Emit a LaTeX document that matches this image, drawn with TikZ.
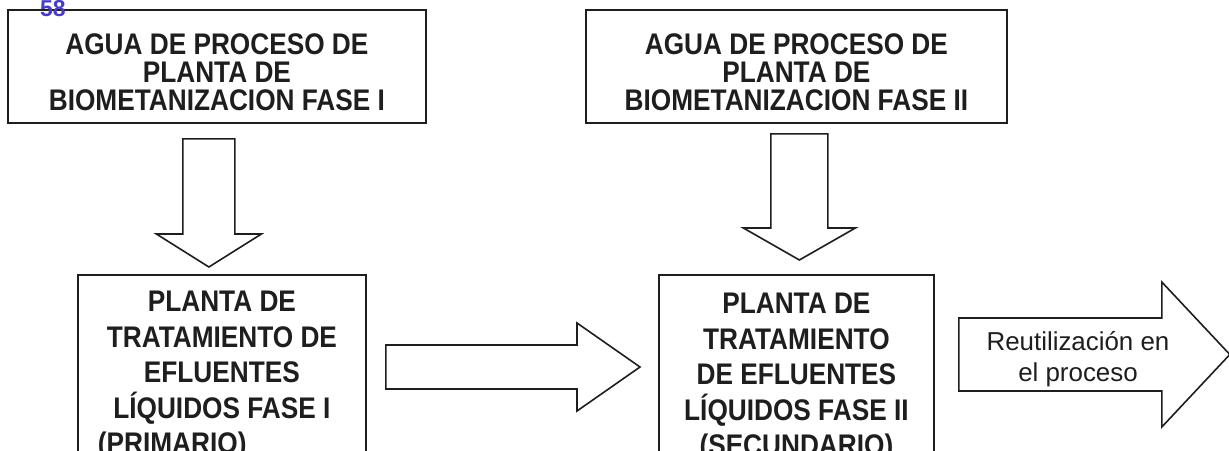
\documentclass[tikz,border=0pt]{standalone}
\usepackage{fontspec}
\setmainfont{Liberation Sans}
\newfontfamily\cajafont[FakeStretch=0.88]{Liberation Sans}
\usetikzlibrary{positioning,calc}

\definecolor{trazo}{RGB}{30,30,30}
\definecolor{tinta}{RGB}{70,60,200}

\tikzset{
  caja/.style={draw=trazo,line width=1.8pt,rectangle,anchor=north west,inner sep=0pt},
  titulo/.style={align=center,inner sep=0pt,text=trazo,font=\cajafont\bfseries\fontsize{29.8}{28}\selectfont},
  planta/.style={align=center,inner sep=0pt,text=trazo,font=\cajafont\bfseries\fontsize{29.8}{35.5}\selectfont},
  bloque/.style={draw=trazo,fill=white,line width=1.6pt,line join=miter}
}

% flecha de bloque hacia abajo: inicio, punta, medio cuerpo, media cabeza, largo cabeza
\newcommand{\flechabajo}[5]{%
  \draw[bloque] let \p1=(#1), \p2=(#2) in
    (\x1-#3,\y1) -- (\x1-#3,\y2+#5) -- (\x1-#4,\y2+#5) -- (\x2,\y2)
    -- (\x1+#4,\y2+#5) -- (\x1+#3,\y2+#5) -- (\x1+#3,\y1) -- cycle;}
% flecha de bloque hacia la derecha
\newcommand{\flechader}[5]{%
  \draw[bloque] let \p1=(#1), \p2=(#2) in
    (\x1,\y1+#3) -- (\x2-#5,\y1+#3) -- (\x2-#5,\y1+#4) -- (\x2,\y2)
    -- (\x2-#5,\y1-#4) -- (\x2-#5,\y1-#3) -- (\x1,\y1-#3) -- cycle;}

\begin{document}
\begin{tikzpicture}[x=1pt,y=-1pt]
      \useasboundingbox (0,0) rectangle (1229,450);
      \clip (0,0) rectangle (1229,450);

      \node[caja,minimum width=418pt,minimum height=113pt] (agua1) at (7,9) {};
      \node[caja,minimum width=421pt,minimum height=113pt] (agua2) at (585,9) {};
      \node[caja,minimum width=288pt,minimum height=200pt] (planta1) at (77,274) {};
      \node[caja,minimum width=275pt,minimum height=200pt] (planta2) at (658,274) {};

      \node[titulo,below=24pt of agua1.north] (agua1txt) {AGUA DE PROCESO DE\\PLANTA DE\\BIOMETANIZACION FASE I};
      \node[titulo,below=24pt of agua2.north] (agua2txt) {AGUA DE PROCESO DE\\PLANTA DE\\BIOMETANIZACION FASE II};
      \node[planta,below=17pt of planta1.north] (planta1txt) {PLANTA DE\\TRATAMIENTO DE\\EFLUENTES\\LÍQUIDOS FASE I\\\makebox[248pt][l]{(PRIMARIO)}};
      \node[planta,below=19pt of planta2.north] (planta2txt) {PLANTA DE\\TRATAMIENTO\\DE EFLUENTES\\LÍQUIDOS FASE II\\(SECUNDARIO)};

      \coordinate (f1a) at ($(agua1.south)+(-8,15)$);
      \coordinate (f1b) at ($(f1a |- planta1.north)+(0,-7)$);
      \coordinate (f2a) at ($(agua2.south)+(3,10)$);
      \coordinate (f2b) at ($(f2a |- planta2.north)+(0,-14)$);
      \coordinate (f3a) at ($(planta1.north east)+(19,93)$);
      \coordinate (f3b) at ($(f3a -| planta2.north west)+(-18,0)$);
      \coordinate (f4a) at ($(planta2.north east)+(24,80.5)$);
      \coordinate (f4b) at ($(f4a)+(271,0)$);

      \flechabajo{f1a}{f1b}{26pt}{52.5pt}{33pt}
      \flechabajo{f2a}{f2b}{28.5pt}{56pt}{32pt}
      \flechader{f3a}{f3b}{22pt}{44pt}{63pt}
      \flechader{f4a}{f4b}{36.5pt}{72.5pt}{68pt}

      \node[align=center,inner sep=0pt,text=trazo,font=\fontsize{25.9}{31}\selectfont] (reutil) at (1078,359) {Reutilización en\\el proceso};

      \node[anchor=north west,inner sep=0pt,text=tinta,font=\bfseries\fontsize{23}{23}\selectfont] (folio) at (40,0.5) {58};

\end{tikzpicture}
\end{document}
